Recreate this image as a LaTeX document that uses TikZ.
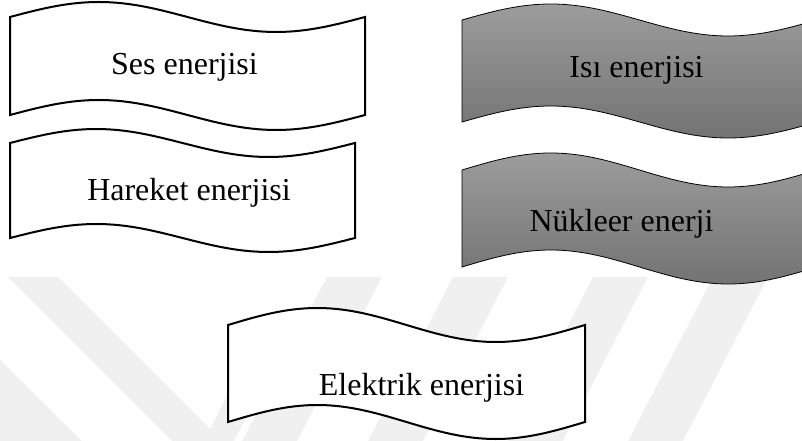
\documentclass[tikz,border=0pt]{standalone}
\usepackage{fontspec}
\setmainfont{Liberation Serif}
\usepackage{tikz}
\definecolor{TapeTop}{HTML}{9C9C9C}
\definecolor{TapeBottom}{HTML}{737373}
\definecolor{MarkGray}{HTML}{F0F0F0}
\tikzset{
  tape/.style={draw=black,line width=1.5pt,fill=white},
  tapeG/.style={draw=black,line width=0.6pt,top color=TapeTop,bottom color=TapeBottom},
  lbl/.style={anchor=base,font=\fontsize{24}{28}\selectfont},
  band/.style={fill=MarkGray,draw=none}
}
% punched tape: top-left corner, width, height, wave height
\newcommand{\tape}[5][tape]{%
  \draw[#1] (#2) sin ++(#3/4,-#5) cos ++(#3/4,#5) sin ++(#3/4,#5) cos ++(#3/4,-#5)
    -- ++(0,#4) sin ++(-#3/4,#5) cos ++(-#3/4,-#5) sin ++(-#3/4,-#5) cos ++(-#3/4,#5) -- cycle;}

\begin{document}
\begin{tikzpicture}[x=0.75pt,y=-0.75pt]
  \useasboundingbox (0,0) rectangle (802,441);
  \clip (0,0) rectangle (802,441);
  % faint bands in the background
  \fill[band] (8,277) -- (58,277) -- (210,429) -- (232,385) -- (262,385) -- (234,441) -- (172,441) -- cycle;
  \fill[band] (0,360) -- (82,441) -- (0,441) -- cycle;
  \foreach \x in {327,453,593,713}
    \fill[band] (\x,277) -- (\x+55,277) -- (\x-30,441) -- (\x-85,441) -- cycle;
  % left column
  \tape{10,17}{355}{98}{15}
  \tape{10,143}{345}{95}{14}
  % right column, grey
  \tape[tapeG]{462,20}{355}{102}{16}
  \tape[tapeG]{462,170}{355}{97}{17}
  % bottom
  \tape{228,325}{357}{97}{17}
  \node[lbl] (ses) at (184.5,75) {Ses enerjisi};
  \node[lbl] (hareket) at (189,201) {Hareket enerjisi};
  \node[lbl] (isi) at (636.5,78) {Isı enerjisi};
  \node[lbl] (nukleer) at (621.5,232) {Nükleer enerji};
  \node[lbl] (elektrik) at (421.5,395) {Elektrik enerjisi};
\end{tikzpicture}
\end{document}
